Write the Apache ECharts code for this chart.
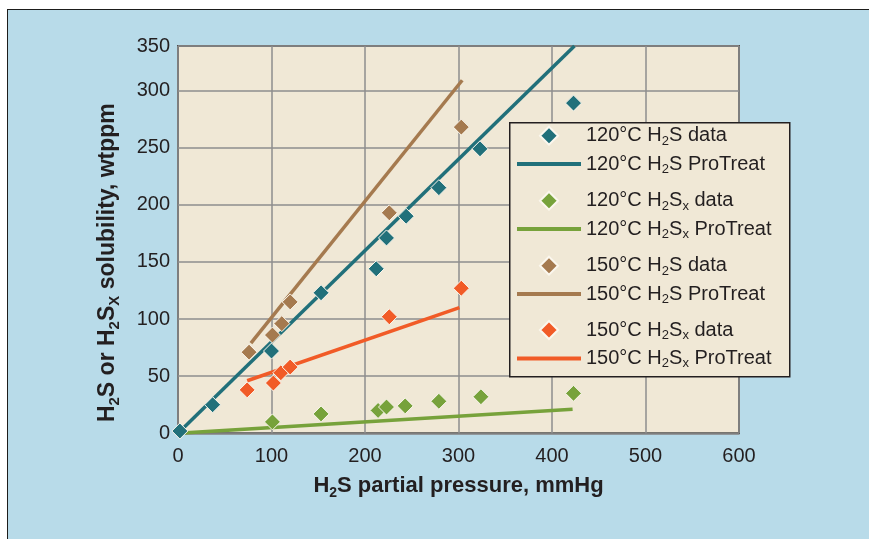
<!DOCTYPE html>
<html>
<head>
<meta charset="utf-8">
<script src="https://cdn.jsdelivr.net/npm/echarts@6/dist/echarts.min.js"></script>
<style>
  html, body { margin: 0; padding: 0; background: #fff; }
  #frame { position: absolute; left: 7px; top: 9px; border-top: 1px solid #1d1d1b; border-left: 1px solid #1d1d1b; }
  #chart { width: 861px; height: 529px; }
</style>
</head>
<body>
<div id="frame"><div id="chart"></div></div>
<script>
// tick labels (the top band of the original is shorter than 50, but it is labelled 350)
const yTickLabels = ['0', '50', '100', '150', '200', '250', '300', '350']

// 120C H2S data
const h2s120X = [2, 37, 100, 153, 212, 223, 244, 279, 323, 423]
const h2s120Y = [2, 25, 72, 123, 144, 171, 190, 215, 249, 289]
// 120C H2Sx data
const h2sx120X = [101, 153, 214, 223, 243, 279, 324, 423]
const h2sx120Y = [10, 17, 20, 23, 24, 28, 32, 35]
// 150C H2S data
const h2s150X = [76, 101, 111, 120, 226, 303]
const h2s150Y = [71, 86, 96, 115, 193, 268]
// 150C H2Sx data
const h2sx150X = [74, 102, 110, 120, 226, 303]
const h2sx150Y = [38, 44, 53, 58, 102, 127]

// ProTreat model lines (end points)
const proH2s120 = [[0, 0], [424, 339]]
const proH2sx120 = [[0, 0], [422, 21]]
const proH2s150 = [[78, 79], [304, 309]]
const proH2sx150 = [[74, 46], [301, 110]]

const names = [
  '120°C H2S data', '120°C H2S ProTreat',
  '120°C H2Sx data', '120°C H2Sx ProTreat',
  '150°C H2S data', '150°C H2S ProTreat',
  '150°C H2Sx data', '150°C H2Sx ProTreat'
]
const colors = ['#21707a', '#77a23b', '#a57a4f', '#f15b27']
const font = 'Liberation Sans'
const textColor = '#231f20'
const plotBg = '#f0e8d6'

const zip = (xs, ys) => xs.map((x, i) => [x, ys[i]])

function richLabel(s) {
  let out = ''
  s.split(/(H2Sx?)/).forEach(part => {
    if (!part) return
    if (part.indexOf('H2S') === 0) {
      out += '{n|H}{s|2}{n|S}' + (part.length > 3 ? '{s|x}' : '')
    } else {
      out += '{n|' + part + '}'
    }
  })
  return out
}

const dataSets = [
  [zip(h2s120X, h2s120Y), proH2s120],
  [zip(h2sx120X, h2sx120Y), proH2sx120],
  [zip(h2s150X, h2s150Y), proH2s150],
  [zip(h2sx150X, h2sx150Y), proH2sx150]
]

const series = []
dataSets.forEach((d, i) => {
  series.push({
    name: names[i * 2],
    type: 'scatter',
    data: d[0],
    symbol: 'diamond',
    symbolSize: 16,
    z: 3,
    itemStyle: {color: colors[i], borderColor: '#fbf7ee', borderWidth: 1, opacity: 1}
  })
  series.push({
    name: names[i * 2 + 1],
    type: 'line',
    data: d[1],
    symbol: 'none',
    z: 2,
    lineStyle: {color: colors[i], width: 3.5},
    itemStyle: {color: colors[i]}
  })
})

const legendCenters = [135.7, 200.7, 265.7, 330]
const legends = legendCenters.map((c, i) => ({
  orient: 'vertical',
  left: 509,
  top: c - 10 - 12,
  padding: 0,
  itemGap: 4.4,
  itemWidth: 64,
  itemHeight: 18,
  z: 11,
  selectedMode: false,
  data: [
    {name: names[i * 2], icon: 'path://M7,0L14,7L7,14L0,7Z'},
    {name: names[i * 2 + 1], icon: 'path://M0,0H64V4H0Z'}
  ],
  formatter: name => richLabel(name),
  textStyle: {
    color: textColor,
    fontFamily: font,
    fontSize: 20,
    lineHeight: 24,
    rich: {
      n: {fontFamily: font, fontSize: 20, lineHeight: 24, color: textColor},
      s: {fontFamily: font, fontSize: 13, lineHeight: 10, verticalAlign: 'bottom', color: textColor}
    }
  }
}))

const nameRich = {
  b: {fontFamily: font, fontWeight: 'bold', fontSize: 22, lineHeight: 28, color: textColor},
  bs: {fontFamily: font, fontWeight: 'bold', fontSize: 14, lineHeight: 12, verticalAlign: 'bottom', color: textColor}
}

const chart = echarts.init(document.getElementById('chart'))
chart.setOption({
  backgroundColor: '#b8dbe9',
  animation: false,
  grid: {
    left: 170, top: 36, width: 561, height: 387.3,
    show: true, backgroundColor: plotBg, borderColor: '#4f4f4f', borderWidth: 2
  },
  xAxis: {
    type: 'value', min: 0, max: 600, interval: 100,
    axisLine: {show: false}, axisTick: {show: false},
    splitLine: {lineStyle: {color: '#8e8e8e', width: 1.5}},
    axisLabel: {fontFamily: font, fontSize: 20, color: textColor, margin: 13},
    name: '{b|H}{bs|2}{b|S partial pressure, mmHg}',
    nameLocation: 'middle', nameGap: 39,
    nameTextStyle: {rich: nameRich}
  },
  yAxis: {
    type: 'value', min: 0, max: 339, interval: 50,
    axisLine: {show: false}, axisTick: {show: false},
    splitLine: {lineStyle: {color: '#8e8e8e', width: 1.5}},
    axisLabel: {fontFamily: font, fontSize: 20, color: textColor, margin: 8,
      formatter: (v, i) => yTickLabels[i]},
    name: '{b|H}{bs|2}{b|S or H}{bs|2}{b|S}{bs|X}{b| solubility, wtppm}',
    nameLocation: 'middle', nameGap: 56,
    nameTextStyle: {padding: [0, 46, 0, 0], rich: {
      b: Object.assign({}, nameRich.b, {fontSize: 23}),
      bs: Object.assign({}, nameRich.bs, {fontSize: 15})
    }}
  },
  legend: legends,
  graphic: [{
    type: 'rect', left: 501, top: 112, z: 10,
    shape: {width: 280, height: 254},
    style: {fill: plotBg, stroke: textColor, lineWidth: 1.5}
  }],
  series: series
})
</script>
</body>
</html>
